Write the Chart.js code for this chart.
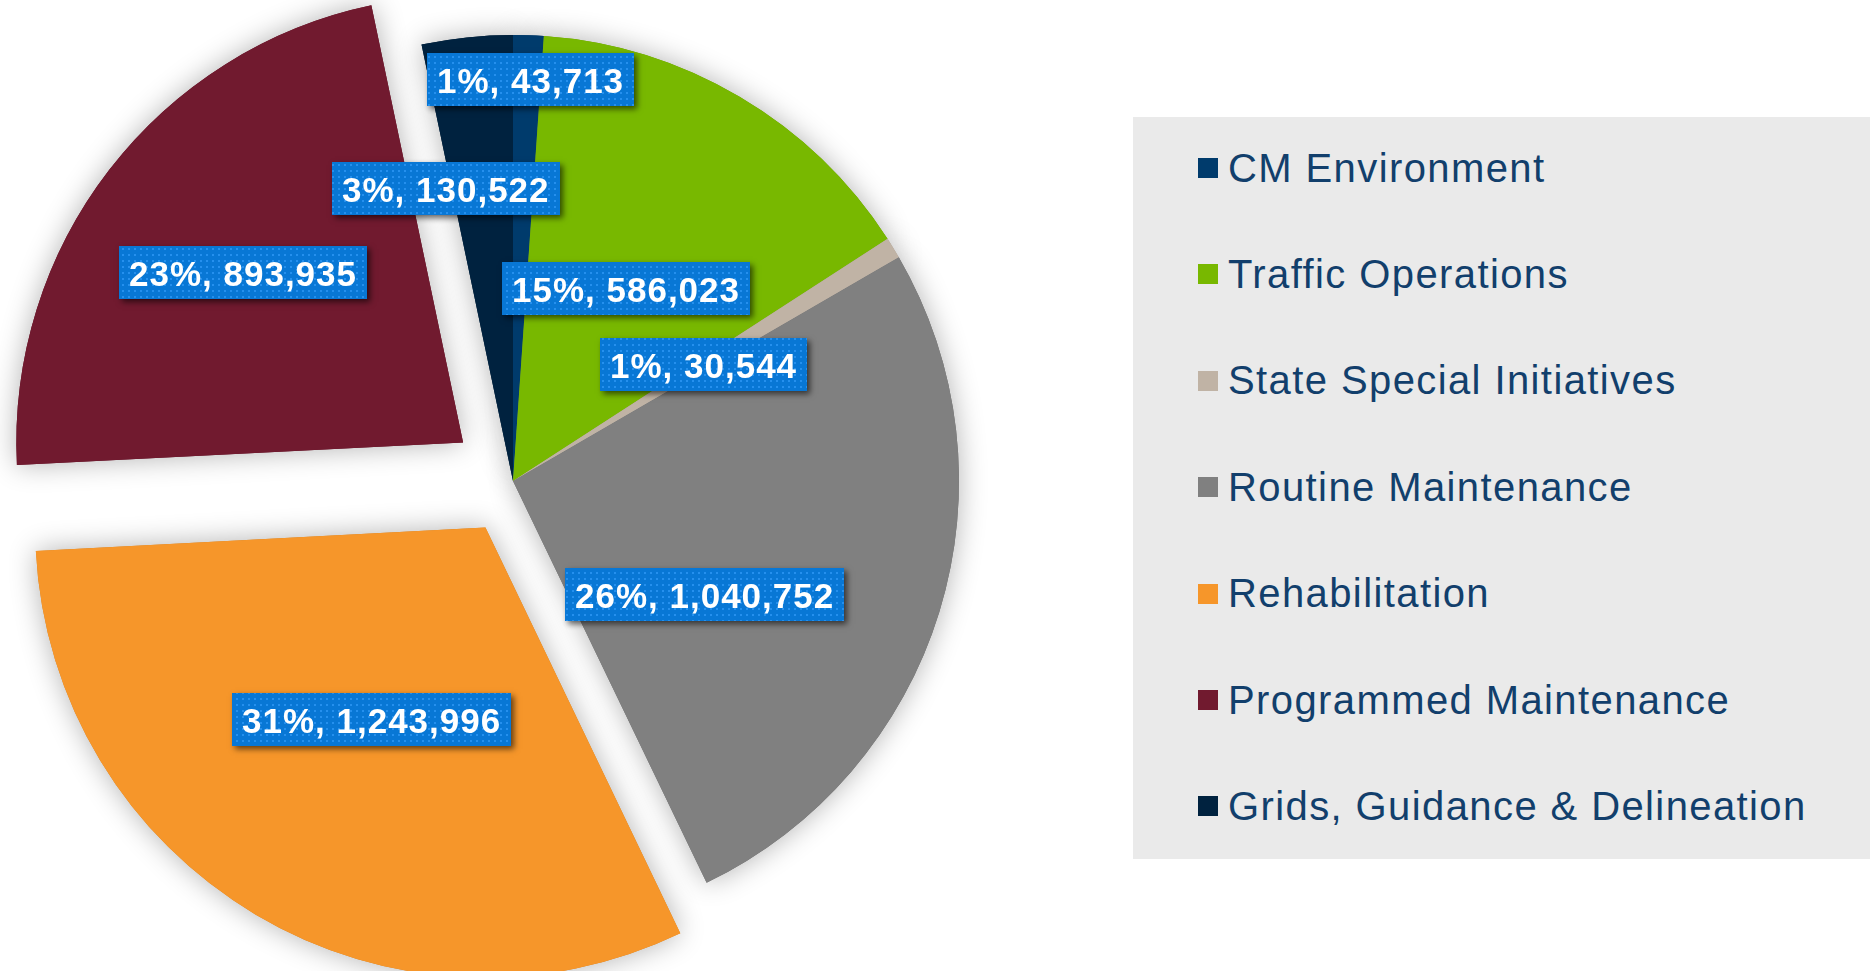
<!DOCTYPE html>
<html>
<head>
<meta charset="utf-8">
<script src="https://cdn.jsdelivr.net/npm/chart.js@4/dist/chart.umd.min.js"></script>
<style>
  html, body { margin: 0; padding: 0; background: #ffffff; width: 1870px; height: 971px; overflow: hidden; }
  #wrap { position: absolute; left: 0; top: 0; width: 1026px; height: 971px; }
  #legend { position: absolute; left: 1133px; top: 117px; width: 737px; height: 742px; background: #eaeaea; }
  .item { position: absolute; left: 65px; height: 50px; display: flex; align-items: center;
          font-family: "Liberation Sans", Arial, sans-serif; font-size: 40px; letter-spacing: 1.4px;
          color: #123f6c; white-space: nowrap; }
  .sw { width: 20px; height: 20px; margin-right: 10px; flex: none; }
</style>
</head>
<body>
<div id="wrap"><canvas id="pie" width="1026" height="971"></canvas></div>
<div id="legend"></div>
<script>
// Budget split by programme
const categories = [
  'CM Environment',
  'Traffic Operations',
  'State Special Initiatives',
  'Routine Maintenance',
  'Rehabilitation',
  'Programmed Maintenance',
  'Grids, Guidance & Delineation'
];
const amounts = [43713, 586023, 30544, 1040752, 1243996, 893935, 130522];

// Styling
const sliceColors = ['#003b6c', '#78b800', '#c0b3a5', '#808080', '#f6962a', '#711a2f', '#00223f'];
const sliceOffset = [0, 0, 0, 0, 216, 252, 0];          // arc pulls out by offset / 4
const labelRadius = [0.9, 0.5, 0.5, 0.5, 0.5, 0.623, 0.672];  // share of the radius
const labelTurn   = [0.5, 0, 0, 13.5, 0, 0, -7];        // degrees away from the slice middle

const total = amounts.reduce((a, b) => a + b, 0);

// Dotted fill for the value tags
function dotPattern(ctx) {
  const tile = document.createElement('canvas');
  tile.width = 6; tile.height = 6;
  const t = tile.getContext('2d');
  t.fillStyle = '#0877d5';
  t.fillRect(0, 0, 6, 6);
  t.fillStyle = '#2590ee';
  t.fillRect(2, 2, 2, 2);
  return ctx.createPattern(tile, 'repeat');
}

const pieDecor = {
  id: 'pieDecor',
  afterDatasetsDraw(chart) {
    const ctx = chart.ctx;
    const arcs = chart.getDatasetMeta(0).data;

    // soft halo behind the slices
    ctx.save();
    ctx.globalCompositeOperation = 'destination-over';
    ctx.shadowColor = 'rgba(0,0,0,0.30)';
    ctx.shadowBlur = 28;
    arcs.forEach(a => a.draw(ctx));
    ctx.restore();

    // value tags
    const pattern = dotPattern(ctx);
    ctx.save();
    ctx.font = 'bold 35px "Liberation Sans", Arial, sans-serif';
    ctx.letterSpacing = '1px';
    arcs.forEach((a, i) => {
      const mid = (a.startAngle + a.endAngle) / 2;
      const pull = (a.options.offset || 0) / 4;
      const cx = a.x + Math.cos(mid) * pull;
      const cy = a.y + Math.sin(mid) * pull;
      const ang = mid + labelTurn[i] * Math.PI / 180;
      const r = a.outerRadius * labelRadius[i];
      const x = cx + Math.cos(ang) * r;
      const y = cy + Math.sin(ang) * r;

      const v = amounts[i];
      const text = Math.round(v / total * 100) + '%, ' + v.toLocaleString('en-US');
      const tw = ctx.measureText(text).width;
      const w = Math.round(tw + 20), h = 53;
      const x0 = Math.round(x - w / 2), y0 = Math.round(y - h / 2);

      ctx.save();
      ctx.shadowColor = 'rgba(0,0,0,0.6)';
      ctx.shadowBlur = 6;
      ctx.shadowOffsetX = 3;
      ctx.shadowOffsetY = 3;
      ctx.fillStyle = '#0877d5';
      ctx.fillRect(x0, y0, w, h);
      ctx.restore();
      ctx.fillStyle = pattern;
      ctx.fillRect(x0, y0, w, h);

      ctx.fillStyle = '#ffffff';
      ctx.textAlign = 'left';
      ctx.textBaseline = 'alphabetic';
      ctx.fillText(text, x0 + 10, y0 + h / 2 + 13);
    });
    ctx.restore();
  }
};

new Chart(document.getElementById('pie'), {
  type: 'pie',
  data: {
    labels: categories,
    datasets: [{
      data: amounts,
      backgroundColor: sliceColors,
      borderWidth: 0,
      offset: sliceOffset,
      hoverOffset: 0,
      clip: false
    }]
  },
  options: {
    responsive: false,
    animation: false,
    events: [],
    radius: 446,
    layout: { padding: { left: 0, top: 0, right: 0, bottom: 9 } },
    plugins: { legend: { display: false }, tooltip: { enabled: false } }
  },
  plugins: [pieDecor]
});

// Legend panel
const legend = document.getElementById('legend');
categories.forEach((name, i) => {
  const row = document.createElement('div');
  row.className = 'item';
  row.style.top = (51 + i * 106.4 - 25) + 'px';
  const sw = document.createElement('span');
  sw.className = 'sw';
  sw.style.background = sliceColors[i];
  const label = document.createElement('span');
  label.textContent = name;
  row.appendChild(sw);
  row.appendChild(label);
  legend.appendChild(row);
});
</script>
</body>
</html>
